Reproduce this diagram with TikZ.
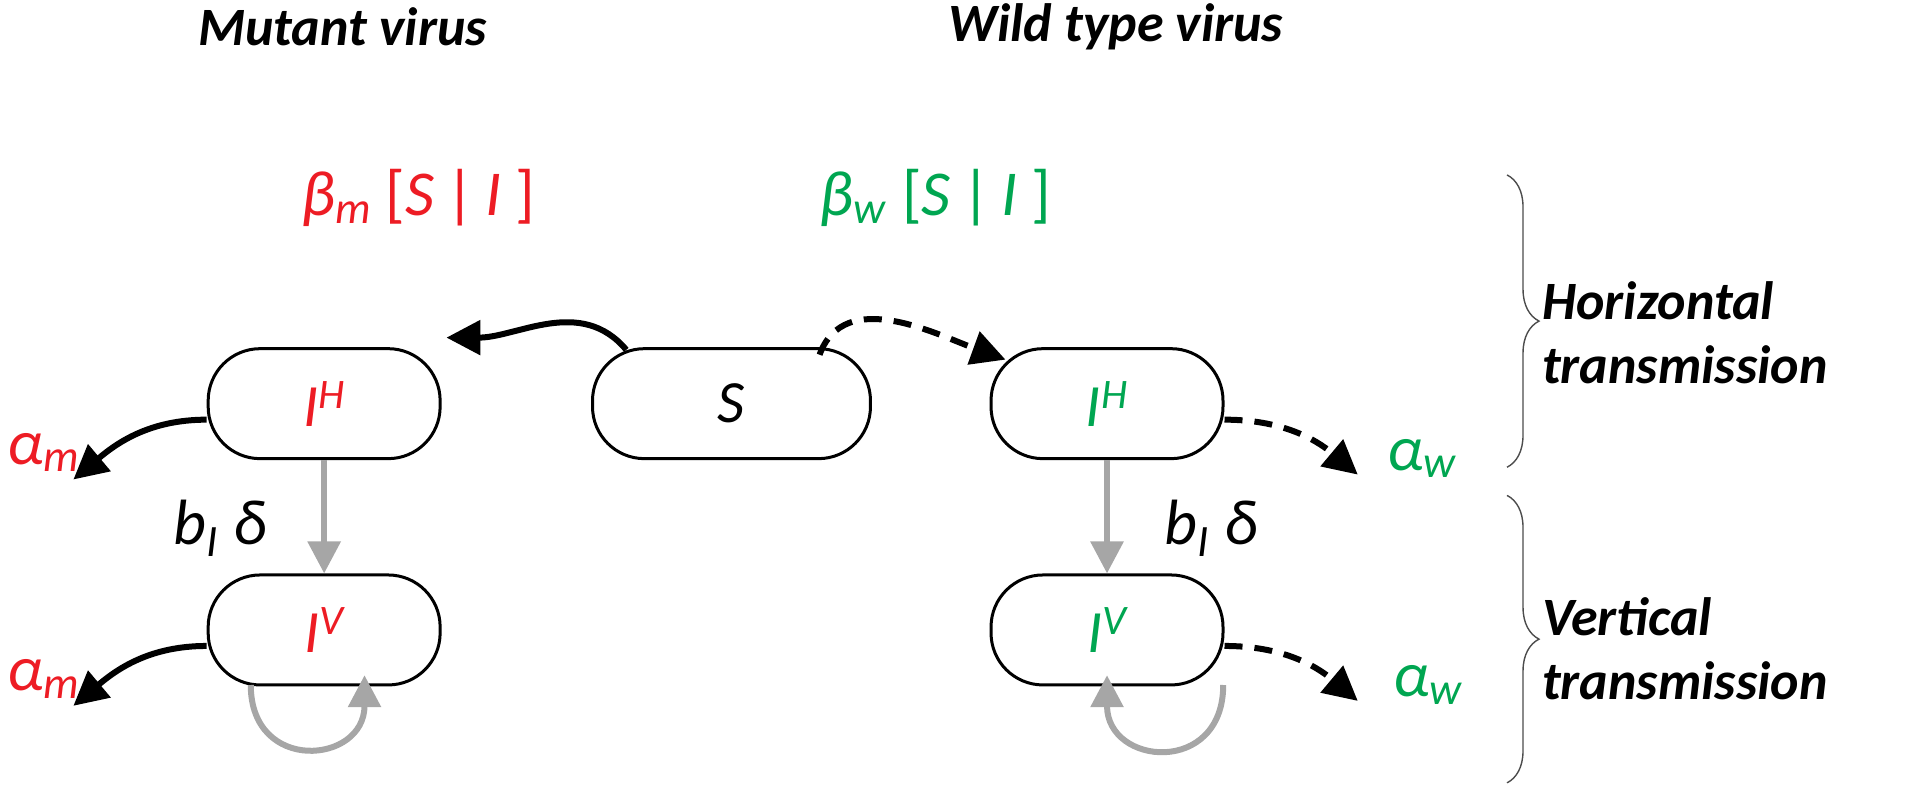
\documentclass[tikz,border=0pt]{standalone}
\usepackage{fontspec}
\setmainfont{Carlito}
\usetikzlibrary{arrows.meta,decorations.pathreplacing}
\definecolor{myred}{RGB}{237,28,36}
\definecolor{mygreen}{RGB}{0,166,81}
\newcommand{\ii}[1]{\textit{#1}}
\begin{document}
\begin{tikzpicture}[x=0.6117pt,y=-0.6117pt,
 box/.style={draw,line width=1.5pt,rounded corners=26pt,minimum width=116pt,minimum height=55pt,font=\fontsize{30}{34}\selectfont\itshape},
 box2/.style={box,minimum width=139pt},
 blk/.style={line width=3pt,-{Triangle[length=17pt,width=17pt]}},
 dsh/.style={blk,dash pattern=on 9pt off 6pt},
 gry/.style={line width=3pt,gray!70,-{Triangle[length=16pt,width=16pt]}},
 lab/.style={font=\fontsize{32}{36}\selectfont},
 ttl/.style={font=\fontsize{27}{32}\selectfont\bfseries\itshape},
 brc/.style={decorate,decoration={brace,amplitude=16pt},line width=0.7pt,gray!60!black}]
\useasboundingbox (0,0) rectangle (1568,654);
\node[ttl] (tm) at (280,22) {Mutant virus};
\node[ttl] (tw) at (912,22) {Wild type virus};
\node[box2] (S) at (598,330) {S};
\node[box,text=myred] (mh) at (265,330) {I\textsuperscript{H}};
\node[box,text=myred] (mv) at (265,515) {I\textsuperscript{V}};
\node[box,text=mygreen] (wh) at (905,330) {I\textsuperscript{H}};
\node[box,text=mygreen] (wv) at (905,515) {I\textsuperscript{V}};
\node[lab,text=myred] (bm) at (342,162) {\ii{β}\textsubscript{\ii{m}} [\ii{S}\,|\,\ii{I} ]};
\node[lab,text=mygreen] (bw) at (765,162) {\ii{β}\textsubscript{\ii{w}} [\ii{S}\,|\,\ii{I} ]};
\node[lab,text=myred] (am1) at (36,370) {\ii{α}\textsubscript{\ii{m}}};
\node[lab,text=myred] (am2) at (36,555) {\ii{α}\textsubscript{\ii{m}}};
\node[lab,text=mygreen] (aw1) at (1163,375) {\ii{α}\textsubscript{\ii{w}}};
\node[lab,text=mygreen] (aw2) at (1168,560) {\ii{α}\textsubscript{\ii{w}}};
\node[lab] (bd1) at (180,432) {\ii{b}\textsubscript{\ii{I}}\ \ii{δ}};
\node[lab] (bd2) at (990,432) {\ii{b}\textsubscript{\ii{I}}\ \ii{δ}};
\draw[blk] (512,286) to[out=130,in=0] (365,276);
\draw[dsh] (670,290) to[out=70,in=160] (822,294);
\draw[blk] ([yshift=-8pt]mh.west) to[out=180,in=40] (60,392);
\draw[blk] ([yshift=-8pt]mv.west) to[out=180,in=40] (60,577);
\draw[dsh] ([yshift=-8pt]wh.east) to[out=0,in=140] (1110,388);
\draw[dsh] ([yshift=-8pt]wv.east) to[out=0,in=140] (1110,573);
\draw[gry] (mh) -- (mv);
\draw[gry] (wh) -- (wv);
\draw[gry] (205,560) to[out=-90,in=-90,looseness=2] (298,552);
\draw[gry] (1000,560) to[out=-90,in=-90,looseness=2] (905,552);
\coordinate (b1t) at (1232,143); \coordinate (b1b) at (1232,382);
\coordinate (b2t) at (1232,405); \coordinate (b2b) at (1232,640);
\draw[brc] (b1t) -- (b1b);
\draw[brc] (b2t) -- (b2b);
\node[ttl,align=left,anchor=west] (ht) at (1255,272) {Horizontal\\transmission};
\node[ttl,align=left,anchor=west] (vt) at (1255,530) {Vertical\\transmission};
\end{tikzpicture}
\end{document}
